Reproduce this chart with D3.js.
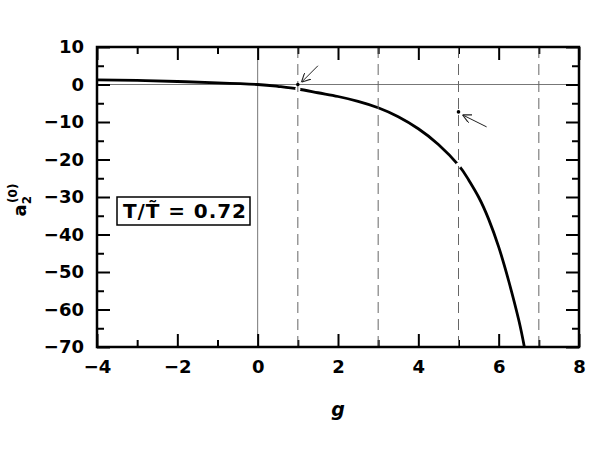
<!DOCTYPE html>
<html>
<head>
<meta charset="utf-8">
<script src="https://cdn.jsdelivr.net/npm/d3@7"></script>
<style>
  body { margin: 0; background: #fff; }
  text { font-family: "DejaVu Sans", sans-serif; }
</style>
</head>
<body>
<svg width="599" height="463"></svg>
<script>
// curve a2(0) vs g
var gValues = [-4, -3, -2, -1, 0, 0.5, 1, 1.5, 2, 2.5, 3, 3.5, 4, 4.5, 5, 5.25, 5.5, 5.75, 6, 6.25, 6.5, 6.64];
var aValues = [1.25, 1.1, 0.8, 0.45, 0, -0.5, -1.2, -2.2, -3.2, -4.5, -6.2, -8.6, -11.8, -16, -21.5, -25.4, -30, -35.9, -43.3, -52.4, -62.8, -70];
// small breaks in the curve
var gapG = [1, 5];
var gapA = [-1.2, -21.5];

// isolated points marked with arrows
var markG = [1, 5];
var markA = [0, -7.3];
var arrowFromG = [1.5, 5.7];
var arrowFromA = [5, -11.3];
var arrowToG = [1.09, 5.1];
var arrowToA = [0.6, -8.1];

var dashedG = [1, 3, 5, 7];
var xMajor = [-4, -2, 0, 2, 4, 6, 8];
var xMinor = [-3, -1, 1, 3, 5, 7];
var yMajor = [10, 0, -10, -20, -30, -40, -50, -60, -70];
var yMinor = [5, -5, -15, -25, -35, -45, -55, -65];

var svg = d3.select("svg");
var x = d3.scaleLinear().domain([-4, 8]).range([97, 579]);
var y = d3.scaleLinear().domain([-70, 10]).range([347, 47]);

// reference lines
svg.append("line").attr("x1", x(-4)).attr("x2", x(8)).attr("y1", y(0)).attr("y2", y(0))
    .attr("stroke", "#777").attr("stroke-width", 1);
svg.append("line").attr("x1", x(0)).attr("x2", x(0)).attr("y1", y(10)).attr("y2", y(-70))
    .attr("stroke", "#777").attr("stroke-width", 1);

// axes (ticks pointing inward on all four sides)
function axisSet(axisFn, scale, vals, size, labels, transform) {
    var a = axisFn(scale).tickValues(vals).tickSizeInner(size).tickSizeOuter(0).tickPadding(13);
    if (!labels) a.tickFormat("");
    var g = svg.append("g").attr("transform", transform).call(a);
    g.select(".domain").remove();
    g.selectAll("line").attr("stroke", "#000").attr("stroke-width", 2);
    g.selectAll("text").attr("fill", "#000").style("font-size", "18px").style("font-weight", "bold");
    return g;
}
axisSet(d3.axisBottom, x, xMajor, -13, true, "translate(0,347)");
axisSet(d3.axisBottom, x, xMinor, -7, false, "translate(0,347)");
axisSet(d3.axisTop, x, xMajor, -13, false, "translate(0,47)");
axisSet(d3.axisTop, x, xMinor, -7, false, "translate(0,47)");
axisSet(d3.axisLeft, y, yMajor, -13, true, "translate(97,0)");
axisSet(d3.axisLeft, y, yMinor, -7, false, "translate(97,0)");
axisSet(d3.axisRight, y, yMajor, -13, false, "translate(579,0)");
axisSet(d3.axisRight, y, yMinor, -7, false, "translate(579,0)");

// curve
var line = d3.line().x(d => x(d[0])).y(d => y(d[1])).curve(d3.curveNatural);
svg.append("path").datum(d3.zip(gValues, aValues))
    .attr("d", line)
    .attr("fill", "none").attr("stroke", "#000").attr("stroke-width", 2.8);
svg.selectAll(".gap").data(d3.zip(gapG, gapA)).enter().append("circle")
    .attr("cx", d => x(d[0])).attr("cy", d => y(d[1])).attr("r", 2.6).attr("fill", "#fff");

// dashed verticals
svg.selectAll(".dash").data(dashedG).enter().append("line")
    .attr("x1", d => x(d)).attr("x2", d => x(d))
    .attr("y1", y(10)).attr("y2", y(-70))
    .attr("stroke", "#666").attr("stroke-width", 1)
    .attr("stroke-dasharray", "11,6");

svg.append("rect").attr("x", x(-4)).attr("y", y(10))
    .attr("width", x(8) - x(-4)).attr("height", y(-70) - y(10))
    .attr("fill", "none").attr("stroke", "#000").attr("stroke-width", 2.5);

// marked points + arrows
svg.append("defs").append("marker")
    .attr("id", "head").attr("viewBox", "0 0 10 10").attr("refX", 10).attr("refY", 5)
    .attr("markerWidth", 9).attr("markerHeight", 9).attr("markerUnits", "userSpaceOnUse")
    .attr("orient", "auto")
    .append("path").attr("d", "M0,0 L10,5 L0,10").attr("fill", "none")
    .attr("stroke", "#222").attr("stroke-width", 1.2);
svg.selectAll(".mark").data(d3.zip(markG, markA)).enter().append("circle")
    .attr("cx", d => x(d[0])).attr("cy", d => y(d[1])).attr("r", 1.8).attr("fill", "#000");
svg.selectAll(".arrow").data(d3.range(markG.length)).enter().append("line")
    .attr("x1", i => x(arrowFromG[i])).attr("y1", i => y(arrowFromA[i]))
    .attr("x2", i => x(arrowToG[i])).attr("y2", i => y(arrowToA[i]))
    .attr("stroke", "#222").attr("stroke-width", 1)
    .attr("marker-end", "url(#head)");

// legend box
svg.append("rect").attr("x", 117).attr("y", 197).attr("width", 133).attr("height", 28)
    .attr("fill", "#fff").attr("stroke", "#000").attr("stroke-width", 1.5);
svg.append("text").attr("x", 123).attr("y", 218)
    .attr("textLength", 123).attr("lengthAdjust", "spacing")
    .style("font-size", "20px").style("font-weight", "bold")
    .text("T/T\u0303 = 0.72");

// axis labels
svg.append("text").attr("x", x(2)).attr("y", 416).attr("text-anchor", "middle")
    .style("font-size", "19px").style("font-weight", "bold").style("font-style", "italic")
    .text("g");
var yl = svg.append("text").attr("transform", "translate(26,200) rotate(-90)")
    .attr("text-anchor", "middle").style("font-size", "18px").style("font-weight", "bold");
yl.append("tspan").text("a");
yl.append("tspan").attr("dy", 5).style("font-size", "12px").text("2");
yl.append("tspan").attr("dx", -7).attr("dy", -14).style("font-size", "12px").text("(0)");
</script>
</body>
</html>
